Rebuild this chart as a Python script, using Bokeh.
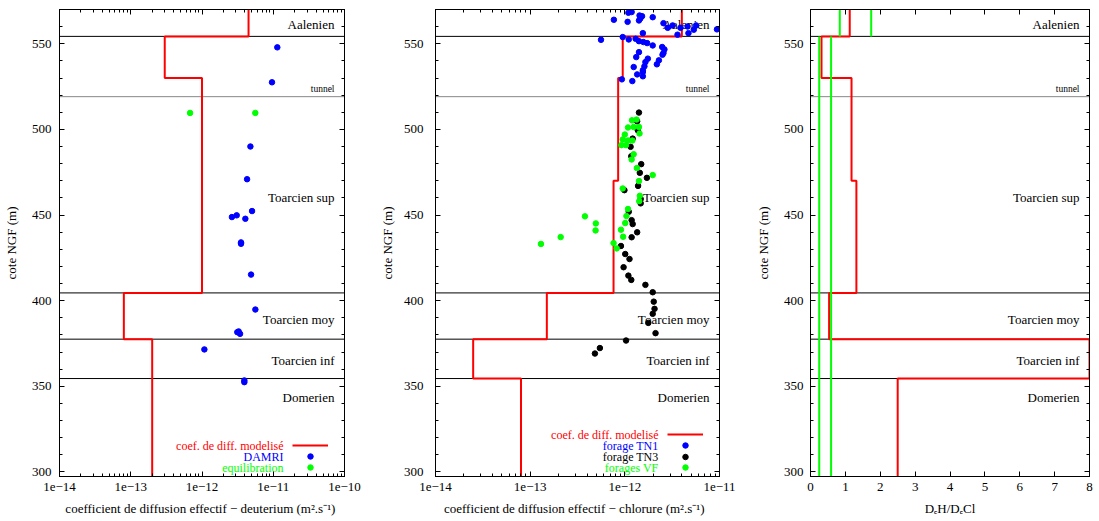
import math
from bokeh.plotting import figure
from bokeh.layouts import row
from bokeh.models import (LogAxis, LinearAxis, Span, SingleIntervalTicker, LogTicker,
                          CustomJSTickFormatter, Range1d)
from bokeh.core.properties import value
from bokeh.embed import file_html
from bokeh.resources import INLINE

FONT = "Liberation Serif"
RED, BLUE, GREEN, BLACK = "#ff0000", "#0000ff", "#00ff00", "#000000"

# ---------------- data ----------------
y_min, y_max = 297.3, 570.0

# modelled piecewise-constant coefficients (interval i spans model_bounds[i] -> model_bounds[i+1])
model_bounds = [570.0, 554.3, 530.0, 470.0, 404.5, 377.5, 354.5, 297.3]
model_DH = [4.5e-12, 3.0e-13, 1.0e-12, 1.0e-12, 8.0e-14, 2.0e-13, 2.0e-13]
model_DCl = [4.0e-12, 9.5e-13, 8.5e-13, 7.6e-13, 1.5e-13, 2.5e-14, 8.0e-14]

layer_lines = [554.3, 404.5, 377.5, 354.5]
tunnel_level = 519.1
layer_names = ["Aalenien", "Toarcien sup", "Toarcien moy", "Toarcien inf", "Domerien"]
layer_label_y = [561.3, 460.4, 389.2, 365.3, 343.5]
tunnel_label = "tunnel"
tunnel_label_y = 523.6

damri_D = [1.14e-11, 9.6e-12, 4.78e-12, 4.29e-12, 5.04e-12, 2.63e-12, 3.07e-12, 4.06e-12,
           3.53e-12, 3.53e-12, 4.88e-12, 5.61e-12, 3.13e-12, 3.27e-12, 3.42e-12, 1.08e-12,
           3.93e-12, 3.93e-12]
damri_z = [547.9, 527.5, 490.0, 470.9, 452.3, 448.8, 449.8, 447.8,
           434.0, 433.2, 415.2, 394.8, 381.6, 382.0, 380.6, 371.5,
           353.4, 352.4]
equil_D = [6.8e-13, 5.6e-12]
equil_z = [509.6, 509.6]

tn1_D = [7.66e-13, 1.09e-12, 1.18e-12, 1.07e-12, 1.43e-12, 1.52e-12, 1.41e-12, 1.46e-12, 1.97e-12,
         2.56e-12, 2.84e-12, 3.2e-12, 3.87e-12, 4.6e-12, 5.35e-12, 5.66e-12, 4.7e-12, 3.6e-12,
         9.4e-12, 5.6e-13, 9.5e-13, 1.1e-12, 1.3e-12, 1.41e-12, 1.55e-12, 1.57e-12, 1.72e-12,
         1.97e-12, 2.48e-12, 2.62e-12, 2.56e-12, 2.5e-12, 1.41e-12, 1.32e-12, 1.75e-12, 1.65e-12,
         2.29e-12, 2.18e-12, 1.61e-12, 1.24e-12, 1.55e-12, 1.55e-12, 1.35e-12, 1.55e-12, 9.3e-13,
         1.2e-12]
tn1_z = [564.0, 568.1, 568.5, 562.8, 566.5, 566.1, 563.6, 564.8, 565.5,
         562.0, 559.3, 560.7, 559.3, 560.1, 558.2, 560.7, 556.2, 555.3,
         558.4, 552.3, 553.9, 552.5, 552.9, 551.5, 556.2, 551.0, 550.4,
         549.0, 548.1, 546.7, 544.6, 543.6, 545.1, 542.2, 541.3, 539.3,
         540.3, 538.0, 536.8, 536.4, 534.5, 533.5, 532.1, 531.0, 529.2,
         528.2]

tn3_D = [1.41e-12, 1.35e-12, 1.37e-12, 1.21e-12, 1.15e-12, 1.17e-12, 1.49e-12, 1.44e-12, 1.71e-12,
         1.38e-12, 9.9e-13, 1.47e-12, 1.47e-12, 1.1e-12, 1.18e-12, 1.21e-12, 1.35e-12, 1.18e-12,
         9.1e-13, 1.01e-12, 1.12e-12, 9.7e-13, 1.09e-12, 1.17e-12, 1.65e-12, 1.97e-12, 2.02e-12,
         2.06e-12, 1.97e-12, 1.77e-12, 2.11e-12, 1.03e-12, 5.45e-13, 4.83e-13]
tn3_z = [509.8, 504.7, 499.5, 494.6, 489.8, 484.3, 479.7, 474.6, 471.7,
         467.0, 464.5, 459.3, 456.8, 451.9, 447.0, 444.7, 439.9, 437.0,
         431.9, 427.2, 424.3, 419.5, 414.6, 412.1, 409.2, 404.9, 399.4,
         395.2, 392.3, 387.0, 381.0, 376.7, 372.3, 369.1]

vf_D = [1.19e-12, 1.33e-12, 1.08e-12, 1.24e-12, 1.41e-12, 1.43e-12, 1.0e-12, 9.5e-13, 1.08e-12,
        1.2e-12, 9.2e-13, 1.03e-12, 1.24e-12, 1.18e-12, 1.34e-12, 1.97e-12, 1.41e-12, 9.5e-13,
        1.44e-12, 1.42e-12, 1.08e-12, 1.04e-12, 1.01e-12, 3.79e-13, 4.94e-13, 4.91e-13, 9.1e-13,
        9.6e-13, 2.1e-13, 1.3e-13, 7.6e-13, 8.2e-13]
vf_z = [505.3, 505.7, 501.1, 501.4, 501.4, 497.6, 497.0, 494.1, 493.5,
        493.5, 490.8, 490.8, 485.5, 482.4, 477.4, 473.3, 469.8, 465.5,
        461.2, 458.1, 453.5, 449.4, 445.3, 449.2, 445.1, 441.0, 441.4,
        437.3, 437.1, 433.1, 433.6, 430.5]

ratio_green_bounds = [570.0, 554.3, 297.3]
ratio_green_low = [0.84, 0.25]
ratio_green_high = [1.74, 0.59]

# ---------------- layout constants ----------------
FRAME_H = 467
TOP_B, BOT_B = 9, 44


def step_xy(bounds, vals):
    xs, ys = [], []
    for i, v in enumerate(vals):
        xs += [v, v]
        ys += [bounds[i], bounds[i + 1]]
    return xs, ys


def style_axis(ax, labels=True):
    ax.axis_line_color = BLACK
    ax.major_tick_line_color = BLACK
    ax.minor_tick_line_color = BLACK
    ax.major_tick_in = 5
    ax.major_tick_out = 0
    ax.minor_tick_in = 3
    ax.minor_tick_out = 0
    ax.major_label_text_font = FONT
    ax.major_label_text_font_size = "13px"
    ax.major_label_text_color = BLACK
    ax.axis_label_text_font = FONT
    ax.axis_label_text_font_size = "13px"
    ax.axis_label_text_font_style = "normal"
    ax.axis_label_text_color = BLACK
    if not labels:
        ax.major_label_text_font_size = "1px"
        ax.major_label_text_alpha = 0
        ax.major_label_standoff = 0


log_fmt = "const e = Math.round(Math.log10(tick)); return '1e' + (e < 0 ? '\u2212' + (-e) : String(e));"


def make_fig(log, xr, frame_w, left, right, xlabel, ystand, ylabstand):
    p = figure(x_axis_type="log" if log else "linear",
               x_range=Range1d(*xr), y_range=Range1d(y_min, y_max),
               frame_width=frame_w, frame_height=FRAME_H,
               min_border_left=left, min_border_right=right,
               min_border_top=TOP_B, min_border_bottom=BOT_B,
               output_backend="svg", toolbar_location=None)
    p.xgrid.visible = False
    p.ygrid.visible = False
    p.outline_line_color = BLACK
    p.outline_line_width = 1
    p.background_fill_color = "white"
    p.border_fill_color = "white"

    bottom = p.below[0]
    left_ax = p.left[0]
    if log:
        bottom.ticker = LogTicker(num_minor_ticks=10)
        bottom.formatter = CustomJSTickFormatter(code=log_fmt)
        top = LogAxis(ticker=LogTicker(num_minor_ticks=10))
    else:
        bottom.ticker = SingleIntervalTicker(interval=1, num_minor_ticks=0)
        top = LinearAxis(ticker=SingleIntervalTicker(interval=1, num_minor_ticks=0))
    left_ax.ticker = SingleIntervalTicker(interval=50, num_minor_ticks=5)
    right_ax = LinearAxis(ticker=SingleIntervalTicker(interval=50, num_minor_ticks=5))
    p.add_layout(top, "above")
    p.add_layout(right_ax, "right")

    style_axis(bottom)
    style_axis(left_ax)
    style_axis(top, labels=False)
    style_axis(right_ax, labels=False)

    bottom.axis_label = xlabel
    bottom.major_label_standoff = 6
    bottom.axis_label_standoff = 7
    left_ax.axis_label = "cote NGF (m)"
    left_ax.major_label_standoff = ystand
    left_ax.axis_label_standoff = ylabstand

    # layer boundaries
    for b in layer_lines:
        p.add_layout(Span(location=b, dimension="width", line_color=BLACK,
                          line_width=1, level="underlay"))
    p.add_layout(Span(location=tunnel_level, dimension="width", line_color="#888888",
                      line_width=1, level="underlay"))

    xmax = xr[1]
    p.text(x=[xmax] * len(layer_names), y=layer_label_y, text=layer_names,
           x_offset=-10, text_align="right", text_baseline="middle",
           text_font=value(FONT), text_font_size="13px", text_color=BLACK)
    p.text(x=[xmax], y=[tunnel_label_y], text=[tunnel_label],
           x_offset=-10, text_align="right", text_baseline="middle",
           text_font=value(FONT), text_font_size="9.5px", text_color=BLACK)
    return p


def x_from_right(xr, frame_w, px, log):
    if log:
        lo, hi = math.log10(xr[0]), math.log10(xr[1])
        return 10 ** (hi - px * (hi - lo) / frame_w)
    return xr[1] - px * (xr[1] - xr[0]) / frame_w


def y_from_bottom(px):
    return y_min + px * (y_max - y_min) / FRAME_H


def add_legend(p, xr, frame_w, entries, rows_px):
    tx = x_from_right(xr, frame_w, 61, True)
    x1 = x_from_right(xr, frame_w, 52, True)
    x2 = x_from_right(xr, frame_w, 16.5, True)
    xd = x_from_right(xr, frame_w, 34, True)
    for (label, color, kind), rp in zip(entries, rows_px):
        yy = y_from_bottom(rp)
        p.text(x=[tx], y=[yy], text=[label], text_align="right", text_baseline="middle",
               text_font=value(FONT), text_font_size="12px", text_color=color)
        if kind == "line":
            p.line(x=[x1, x2], y=[yy, yy], line_color=color, line_width=2)
        else:
            p.scatter(x=[xd], y=[yy], marker="circle", size=5.5, fill_color=color, line_color=color)


# ---------------- panel 1 : deuterium ----------------
XR1 = (1e-14, 1e-10)
FW1 = 285
p1 = make_fig(True, XR1, FW1, 53, 32,
              "coefficient de diffusion effectif \u2212 deuterium  (m\u00b2.s\u207b\u00b9)", 8, 10)
xs, ys = step_xy(model_bounds, model_DH)
p1.line(xs, ys, line_color=RED, line_width=2)
p1.scatter(damri_D, damri_z, marker="circle", size=5.5, fill_color=BLUE, line_color=BLUE)
p1.scatter(equil_D, equil_z, marker="circle", size=5.5, fill_color=GREEN, line_color=GREEN)
add_legend(p1, XR1, FW1,
           [("coef. de diff. modelisé", RED, "line"), ("DAMRI", BLUE, "dot"),
            ("equilibration", GREEN, "dot")],
           [31, 20, 9])

# ---------------- panel 2 : chlorure ----------------
XR2 = (1e-14, 1e-11)
FW2 = 284
p2 = make_fig(True, XR2, FW2, 57, 33,
              "coefficient de diffusion effectif \u2212 chlorure   (m\u00b2.s\u207b\u00b9)", 12, 6)
xs, ys = step_xy(model_bounds, model_DCl)
p2.line(xs, ys, line_color=RED, line_width=2)
p2.scatter(tn1_D, tn1_z, marker="circle", size=5.5, fill_color=BLUE, line_color=BLUE)
p2.scatter(tn3_D, tn3_z, marker="circle", size=5.5, fill_color=BLACK, line_color=BLACK)
p2.scatter(vf_D, vf_z, marker="circle", size=5.5, fill_color=GREEN, line_color=GREEN)
add_legend(p2, XR2, FW2,
           [("coef. de diff. modelisé", RED, "line"), ("forage TN1", BLUE, "dot"),
            ("forage TN3", BLACK, "dot"), ("forages VF", GREEN, "dot")],
           [42, 31, 19.5, 9])

# ---------------- panel 3 : ratio ----------------
XR3 = (0, 8)
FW3 = 279
p3 = make_fig(False, XR3, FW3, 56, 4, "D\u2091H/D\u2091Cl", 7, 10)
ratio = [h / c for h, c in zip(model_DH, model_DCl)]
xs, ys = step_xy(model_bounds, ratio)
p3.line(xs, ys, line_color=RED, line_width=2)
p3.segment(x0=ratio_green_low, y0=ratio_green_bounds[:-1], x1=ratio_green_low,
           y1=ratio_green_bounds[1:], line_color=GREEN, line_width=2)
p3.segment(x0=ratio_green_high, y0=ratio_green_bounds[:-1], x1=ratio_green_high,
           y1=ratio_green_bounds[1:], line_color=GREEN, line_width=2)

layout = row(p1, p2, p3)
open("out.html", "w").write(file_html(layout, INLINE, title="diffusion"))
